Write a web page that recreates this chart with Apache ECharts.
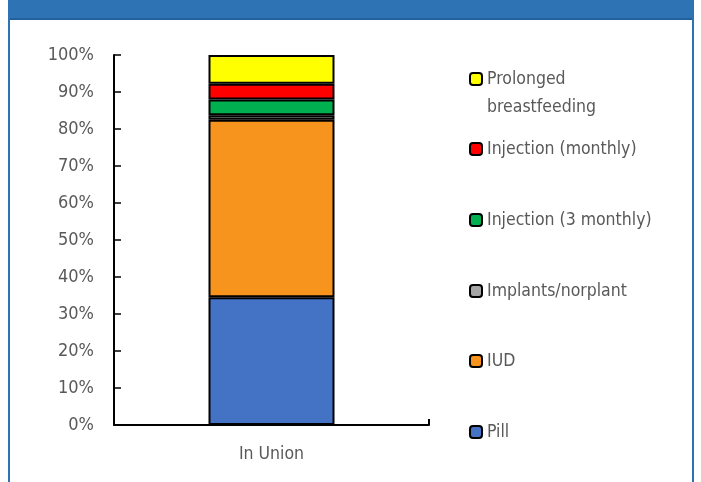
<!DOCTYPE html>
<html>
<head>
<meta charset="utf-8">
<script src="https://cdn.jsdelivr.net/npm/echarts@6/dist/echarts.min.js"></script>
<style>
html,body{margin:0;padding:0;background:#fff;}
#chart{width:701px;height:482px;}
</style>
</head>
<body>
<div id="chart"></div>
<script>
const categories = ['In Union'];
const seriesNames = ['Pill', 'IUD', 'Implants/norplant', 'Injection (3 monthly)', 'Injection (monthly)', 'Prolonged breastfeeding'];
const pill = [34.5];
const iud = [48.0];
const implants = [1.2];
const injection3 = [4.3];
const injectionMonthly = [4.2];
const prolonged = [7.8];
const yTicks = [0, 10, 20, 30, 40, 50, 60, 70, 80, 90, 100];

const colors = ['#4472C4', '#F7941E', '#A5A5A5', '#00B050', '#FF0000', '#FFFF00'];
const values = [pill, iud, implants, injection3, injectionMonthly, prolonged];
const FONT = "'DejaVu Sans Condensed', 'Liberation Sans Narrow', sans-serif";
const TXT = '#595959';

const chart = echarts.init(document.getElementById('chart'));

const series = seriesNames.map((n, i) => ({
  name: n,
  type: 'bar',
  stack: 'total',
  barWidth: 126,
  data: values[i],
  itemStyle: { color: colors[i], borderColor: '#000', borderWidth: 2 }
}));

// legend tops (icon centers at ~79,149,220,291,361,432)
const legendOrder = ['Prolonged breastfeeding', 'Injection (monthly)', 'Injection (3 monthly)', 'Implants/norplant', 'IUD', 'Pill'];
const legendTops = [37, 140, 211, 282, 352, 423];
const legends = legendOrder.map((n, i) => {
  const lg = {
    data: [n],
    left: 469,
    top: legendTops[i],
    padding: 0,
    itemWidth: 12,
    itemHeight: 12,
    itemGap: 0,
    selectedMode: false,
    textStyle: { color: TXT, fontSize: 17.5, fontFamily: FONT }
  };
  if (i === 0) {
    lg.formatter = () => ' \nProlonged\nbreastfeeding';
    lg.textStyle.lineHeight = 28;
  }
  return lg;
});

const option = {
  animation: false,
  backgroundColor: '#fff',
  graphic: [
    { type: 'rect', shape: { x: 8, y: 0, width: 686, height: 18 }, style: { fill: '#2E74B5' }, z: -1 },
    { type: 'rect', shape: { x: 8, y: 18, width: 686, height: 2 }, style: { fill: '#24609A' }, z: -1 },
    { type: 'rect', shape: { x: 8, y: 18, width: 2, height: 464 }, style: { fill: '#2E74B5' }, z: -1 },
    { type: 'rect', shape: { x: 692, y: 18, width: 2, height: 464 }, style: { fill: '#2E74B5' }, z: -1 }
  ],
  legend: legends,
  grid: { left: 114, top: 55, width: 315, height: 370, containLabel: false },
  xAxis: {
    type: 'category',
    data: categories,
    axisLine: { lineStyle: { color: '#000', width: 2 } },
    axisTick: { show: true, inside: true, length: 6, lineStyle: { color: '#000', width: 2 } },
    axisLabel: { color: TXT, fontSize: 17.5, fontFamily: FONT, margin: 20 }
  },
  yAxis: {
    type: 'value',
    min: 0, max: 100, interval: 10,
    axisLine: { show: true, lineStyle: { color: '#000', width: 2 } },
    axisTick: { show: true, inside: true, length: 7, lineStyle: { color: '#000', width: 1.5 } },
    splitLine: { show: false },
    axisLabel: {
      color: TXT, fontSize: 18, fontFamily: FONT, margin: 20,
      formatter: v => yTicks.includes(v) ? v + '%' : ''
    }
  },
  series: series
};
chart.setOption(option);
</script>
</body>
</html>
